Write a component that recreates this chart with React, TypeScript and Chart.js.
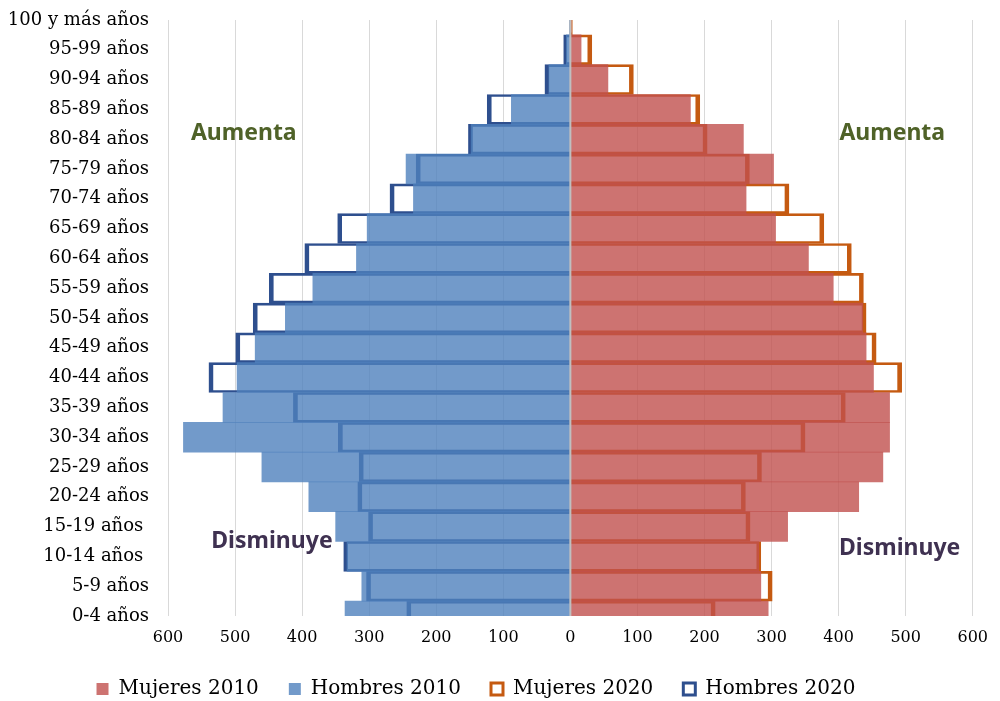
import React, { useEffect, useRef } from "react";
import { Chart, registerables } from "chart.js";

Chart.register(...registerables);

const ageGroups = [
  "0-4 años", "5-9 años", "10-14 años ", "15-19 años ", "20-24 años",
  "25-29 años", "30-34 años", "35-39 años", "40-44 años", "45-49 años",
  "50-54 años", "55-59 años", "60-64 años", "65-69 años", "70-74 años",
  "75-79 años", "80-84 años", "85-89 años", "90-94 años", "95-99 años",
  "100 y más años",
];

const mujeres2010 = [295, 284, 281, 324, 430, 466, 476, 476, 452, 441, 436, 392, 355, 306, 262, 303, 258, 179, 56, 16, 1];
const hombres2010 = [336, 311, 333, 350, 390, 460, 577, 518, 497, 470, 425, 384, 319, 303, 234, 245, 148, 88, 32, 6, 1];
const mujeres2020 = [216, 301, 284, 268, 261, 285, 350, 410, 494, 456, 441, 437, 419, 378, 326, 267, 204, 193, 94, 32, 3];
const hombres2020 = [244, 304, 338, 301, 317, 315, 346, 413, 539, 499, 473, 449, 396, 347, 269, 230, 152, 124, 38, 10, 1];

const xTicks = [-600, -500, -400, -300, -200, -100, 0, 100, 200, 300, 400, 500, 600];

const notes = [
  { text: "Aumenta", x: -487, y: 16.2, color: "#4f6228" },
  { text: "Aumenta", x: 480, y: 16.2, color: "#4f6228" },
  { text: "Disminuye", x: -445, y: 2.5, color: "#3f3151" },
  { text: "Disminuye", x: 491, y: 2.25, color: "#3f3151" },
];

const SERIF = "'DejaVu Serif', 'Liberation Serif', serif";

export default function App() {
  const ref = useRef<HTMLCanvasElement | null>(null);

  useEffect(() => {
    if (!ref.current) return;
    const zeroLine = {
      id: "zeroLine",
      afterDatasetsDraw(chart: any) {
        const { ctx, chartArea, scales } = chart;
        const px = scales.x.getPixelForValue(0);
        ctx.save();
        ctx.strokeStyle = "#bfbfbf";
        ctx.lineWidth = 2;
        ctx.beginPath();
        ctx.moveTo(px, chartArea.top);
        ctx.lineTo(px, chartArea.bottom);
        ctx.stroke();
        ctx.restore();
      },
    };
    const notesPlugin = {
      id: "notes",
      afterDraw(chart: any) {
        const { ctx, scales } = chart;
        ctx.save();
        ctx.font = "bold 23px 'Comic Sans MS', 'Noto Sans', sans-serif";
        ctx.textAlign = "center";
        ctx.textBaseline = "middle";
        notes.forEach((n) => {
          ctx.fillStyle = n.color;
          ctx.fillText(n.text, scales.x.getPixelForValue(n.x), scales.y.getPixelForValue(n.y));
        });
        ctx.restore();
      },
    };
    const legendShift = {
      id: "legendShift",
      afterLayout(chart: any) {
        if (chart.legend) {
          chart.legend.left -= 16;
          chart.legend.right -= 16;
        }
      },
    };

    const chart = new Chart(ref.current, {
      type: "bar",
      data: {
        labels: ageGroups,
        datasets: [
          {
            label: "Mujeres 2010",
            data: mujeres2010,
            backgroundColor: "rgba(192,80,77,0.8)",
            borderWidth: 0,
          },
          {
            label: "Hombres 2010",
            data: hombres2010.map((v) => -v),
            backgroundColor: "rgba(79,129,189,0.8)",
            borderWidth: 0,
          },
          {
            label: "Mujeres 2020",
            data: mujeres2020,
            backgroundColor: "rgba(255,255,255,0)",
            borderColor: "#c55a11",
            borderWidth: { top: 2, bottom: 2, left: 4, right: 4 },
          },
          {
            label: "Hombres 2020",
            data: hombres2020.map((v) => -v),
            backgroundColor: "rgba(255,255,255,0)",
            borderColor: "#2e4f8e",
            borderWidth: { top: 2, bottom: 2, left: 4, right: 4 },
          },
        ] as any,
      },
      options: {
        indexAxis: "y",
        animation: false,
        responsive: true,
        maintainAspectRatio: false,
        layout: { padding: { top: 20, right: 16, left: 0, bottom: 0 } },
        datasets: {
          bar: {
            grouped: false,
            barPercentage: 1,
            categoryPercentage: 1,
            borderSkipped: "start",
            clip: 0,
          } as any,
        },
        scales: {
          x: {
            min: -600,
            max: 600,
            afterBuildTicks(scale: any) {
              scale.ticks = xTicks.map((v) => ({ value: v }));
            },
            afterFit(scale: any) {
              scale.height = 33;
            },
            grid: { color: "#d9d9d9", lineWidth: 1, drawTicks: false },
            border: { display: false },
            ticks: {
              padding: 12,
              color: "#000",
              font: { family: SERIF, size: 16 },
              maxRotation: 0,
              callback: (v: any) => String(Math.abs(Number(v))),
            },
          },
          y: {
            reverse: true,
            offset: false,
            afterFit(scale: any) {
              scale.width = 168;
              scale.paddingTop = 0;
              scale.paddingBottom = 0;
            },
            grid: { display: false, drawTicks: false },
            border: { display: false },
            ticks: {
              padding: 19,
              color: "#000",
              autoSkip: false,
              font: { family: SERIF, size: 18 },
            },
          },
        },
        plugins: {
          legend: {
            position: "bottom",
            labels: {
              boxWidth: 12,
              boxHeight: 12,
              padding: 30,
              color: "#000",
              font: { family: SERIF, size: 20 },
            },
          },
          tooltip: { enabled: false },
        },
      },
      plugins: [zeroLine, notesPlugin, legendShift],
    } as any);
    return () => chart.destroy();
  }, []);

  return (
    <div style={{ position: "fixed", left: 0, top: 0, width: 1000, height: 709, background: "#fff" }}>
      <canvas ref={ref} />
    </div>
  );
}
